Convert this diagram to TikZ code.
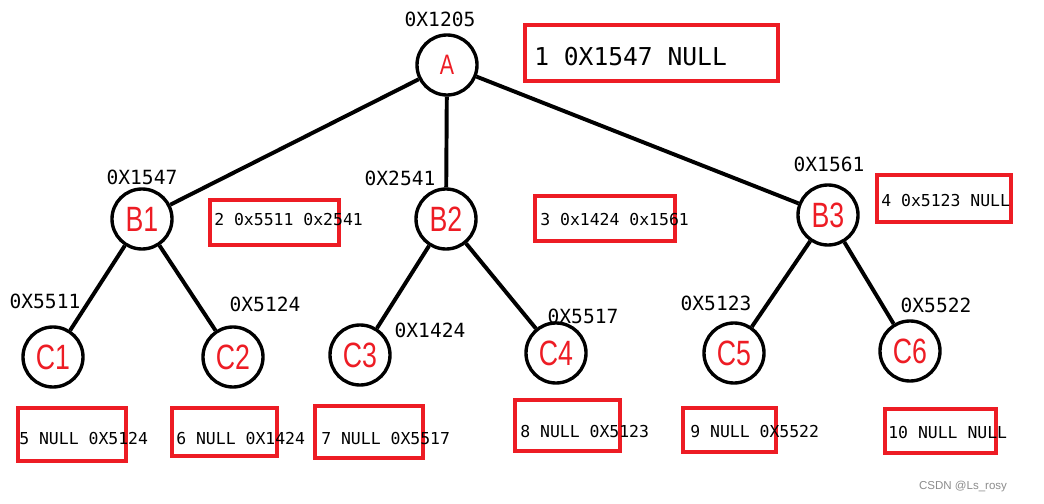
\documentclass[tikz,border=0pt]{standalone}
\usepackage{fontspec}
\setmainfont{Liberation Sans}
\newfontfamily\hexfont{DejaVu Sans Mono}
\definecolor{mark}{HTML}{ED1C24}
\newcommand{\narrowtxt}[1]{\scalebox{0.76}[1]{#1}}

\begin{document}
\begin{tikzpicture}[x=0.025cm, y=-0.025cm,
    nd/.style={circle, draw=black, line width=2.4pt, minimum size=1.5cm, inner sep=0pt, text=mark, font=\fontsize{25}{25}\selectfont},
    adr/.style={font=\hexfont\fontsize{13.9}{14}\selectfont, inner sep=0pt},
    rec/.style={rectangle, draw=mark, line width=3.2pt, inner sep=0pt},
    rectxt/.style={anchor=base west, inner sep=0pt, font=\hexfont\fontsize{11.7}{12}\selectfont},
    link/.style={line width=2.8pt}
]
    \useasboundingbox (0,0) rectangle (1044,504);

    % Tree nodes
    \node[nd, font=\fontsize{20}{20}\selectfont] (a) at (447,65) {\narrowtxt{A}};
    \node[nd] (b1) at (142,219) {\narrowtxt{B1}};
    \node[nd] (b2) at (446,219) {\narrowtxt{B2}};
    \node[nd] (b3) at (828,215) {\narrowtxt{B3}};
    \node[nd] (c1) at (53,357) {\narrowtxt{C1}};
    \node[nd] (c2) at (233,357) {\narrowtxt{C2}};
    \node[nd] (c3) at (360,355) {\narrowtxt{C3}};
    \node[nd] (c4) at (556,353) {\narrowtxt{C4}};
    \node[nd] (c5) at (734,353) {\narrowtxt{C5}};
    \node[nd] (c6) at (910,351) {\narrowtxt{C6}};

    % Links
    \draw[link] (a) -- (b1);
    \draw[link] (a) -- (b2);
    \draw[link] (a) -- (b3);
    \draw[link] (b1) -- (c1);
    \draw[link] (b1) -- (c2);
    \draw[link] (b2) -- (c3);
    \draw[link] (b2) -- (c4);
    \draw[link] (b3) -- (c5);
    \draw[link] (b3) -- (c6);

    % Addresses
    \node[adr] (adra) at (440,19.5) {0X1205};
    \node[adr] (adrb1) at (142,177) {0X1547};
    \node[adr] (adrb2) at (400,178) {0X2541};
    \node[adr] (adrb3) at (829,164.5) {0X1561};
    \node[adr] (adrc1) at (45,301) {0X5511};
    \node[adr] (adrc2) at (265,304) {0X5124};
    \node[adr] (adrc3) at (430,330) {0X1424};
    \node[adr] (adrc4) at (583,316) {0X5517};
    \node[adr] (adrc5) at (716,303) {0X5123};
    \node[adr] (adrc6) at (936,305) {0X5522};

    % Records
    \node[rec, minimum width=6.325cm, minimum height=1.4cm] (r1) at (651.5,53) {};
    \node[rec, minimum width=3.225cm, minimum height=1.125cm] (r2) at (274.5,222.5) {};
    \node[rec, minimum width=3.5cm, minimum height=1.125cm] (r3) at (605,218.5) {};
    \node[rec, minimum width=3.35cm, minimum height=1.175cm] (r4) at (944,198.5) {};
    \node[rec, minimum width=2.7cm, minimum height=1.325cm] (r5) at (72,434.5) {};
    \node[rec, minimum width=2.625cm, minimum height=1.2cm] (r6) at (224.5,432) {};
    \node[rec, minimum width=2.7cm, minimum height=1.3cm] (r7) at (369,432) {};
    \node[rec, minimum width=2.625cm, minimum height=1.275cm] (r8) at (567.5,425.5) {};
    \node[rec, minimum width=2.325cm, minimum height=1.1cm] (r9) at (729.5,430) {};
    \node[rec, minimum width=2.775cm, minimum height=1.1cm] (r10) at (940.5,431) {};

    \node[rectxt, font=\hexfont\fontsize{17.5}{18}\selectfont] (t1) at (534,66) {1 0X1547 NULL};
    \node[rectxt] (t2) at (214,226) {2 0x5511 0x2541};
    \node[rectxt] (t3) at (540,226) {3 0x1424 0x1561};
    \node[rectxt] (t4) at (881,207) {4 0x5123 NULL};
    \node[rectxt] (t5) at (19,444) {5 NULL 0X5124};
    \node[rectxt] (t6) at (176,444) {6 NULL 0X1424};
    \node[rectxt] (t7) at (321,444) {7 NULL 0X5517};
    \node[rectxt] (t8) at (520,437) {8 NULL 0X5123};
    \node[rectxt] (t9) at (690,437) {9 NULL 0X5522};
    \node[rectxt] (t10) at (888,438) {10 NULL NULL};

    % Watermark
    \node[text=black!45, font=\fontsize{8.2}{9}\selectfont, inner sep=0pt] (wm) at (963,487) {CSDN @Ls\_rosy};
\end{tikzpicture}
\end{document}
